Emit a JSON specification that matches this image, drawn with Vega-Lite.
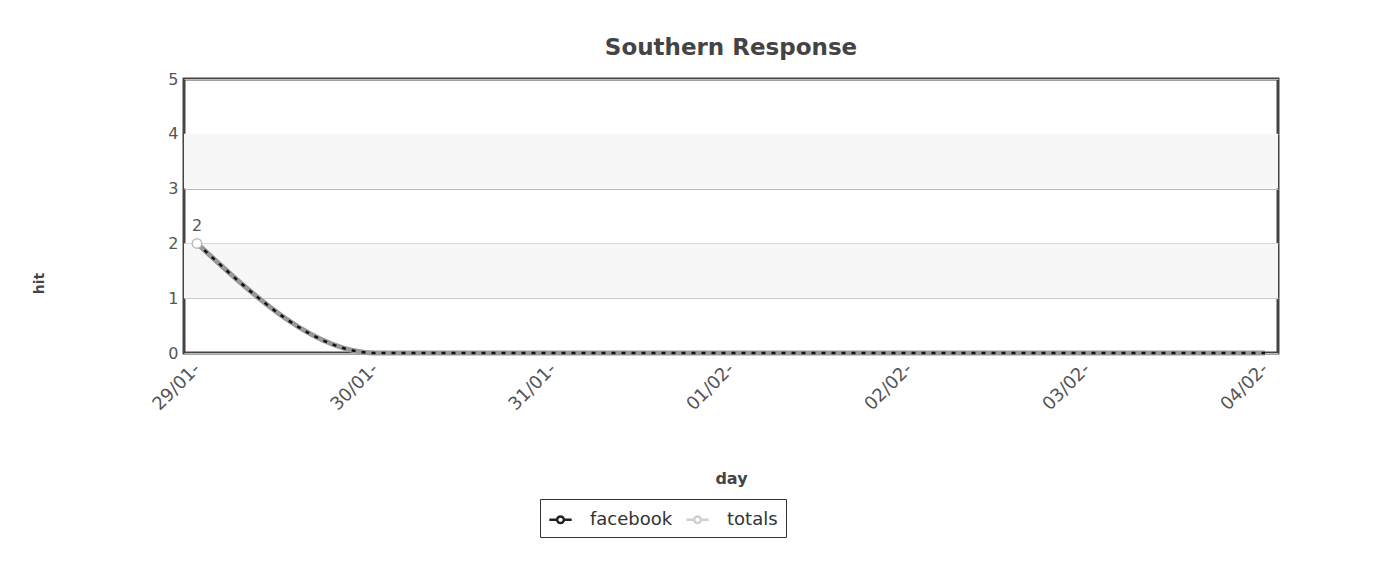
{
  "$schema": "https://vega.github.io/schema/vega-lite/v6.json",
  "width": 1094,
  "height": 274,
  "padding": {"left": 32, "top": 37, "right": 90, "bottom": 20},
  "background": "white",
  "title": {"text": "Southern Response", "font": "DejaVu Sans", "fontSize": 23, "fontWeight": "bold", "color": "#444", "offset": 11},
  "config": {
    "view": {"stroke": "#444", "strokeWidth": 3},
    "font": "DejaVu Sans"
  },
  "datasets": {
    "bands": [{"lo": 1, "hi": 2}, {"lo": 3, "hi": 4}],
    "series": [
      {"day": "29/01-", "hit": 2, "series": "facebook"},
      {"day": "30/01-", "hit": 0, "series": "facebook"},
      {"day": "31/01-", "hit": 0, "series": "facebook"},
      {"day": "01/02-", "hit": 0, "series": "facebook"},
      {"day": "02/02-", "hit": 0, "series": "facebook"},
      {"day": "03/02-", "hit": 0, "series": "facebook"},
      {"day": "04/02-", "hit": 0, "series": "facebook"},
      {"day": "29/01-", "hit": 2, "series": "totals"},
      {"day": "30/01-", "hit": 0, "series": "totals"},
      {"day": "31/01-", "hit": 0, "series": "totals"},
      {"day": "01/02-", "hit": 0, "series": "totals"},
      {"day": "02/02-", "hit": 0, "series": "totals"},
      {"day": "03/02-", "hit": 0, "series": "totals"},
      {"day": "04/02-", "hit": 0, "series": "totals"}
    ]
  },
  "layer": [
    {
      "data": {"name": "bands"},
      "mark": {"type": "rect", "color": "#f7f7f7"},
      "encoding": {
        "y": {
          "field": "lo", "type": "quantitative",
          "scale": {"domain": [0, 5], "nice": false},
          "axis": {
            "title": "hit", "titleFont": "DejaVu Sans", "titleFontSize": 14, "titleFontWeight": "bold", "titleColor": "#444",
            "titleX": -145, "titleY": 204, "titleAlign": "center", "titleBaseline": "middle",
            "values": [0, 1, 2, 3, 4, 5], "labelFontSize": 16, "labelColor": "#555",
            "labelFont": "DejaVu Sans", "labelPadding": 6, "domain": false, "ticks": false,
            "grid": true, "gridColor": "#bbb", "gridWidth": 1
          }
        },
        "y2": {"field": "hi"}
      }
    },
    {
      "data": {"name": "series"},
      "transform": [{"filter": "datum.series == 'totals'"}],
      "mark": {"type": "line", "interpolate": "monotone", "strokeWidth": 5, "color": "#999"},
      "encoding": {
        "x": {
          "field": "day", "type": "ordinal", "sort": null,
          "scale": {"type": "point", "padding": 0.073},
          "axis": {
            "title": "day", "titleFont": "DejaVu Sans", "titleFontSize": 16, "titleFontWeight": "bold", "titleColor": "#444",
            "titlePadding": 57, "labelAngle": -45, "labelAlign": "right", "labelBaseline": "middle",
            "labelFontSize": 18, "labelColor": "#555", "labelFont": "DejaVu Sans", "labelPadding": 13,
            "domain": false, "ticks": false, "grid": false
          }
        },
        "y": {"field": "hit", "type": "quantitative"}
      }
    },
    {
      "data": {"name": "series"},
      "mark": {"type": "line", "interpolate": "monotone", "strokeWidth": 2, "opacity": 0},
      "encoding": {
        "x": {"field": "day", "type": "ordinal", "sort": null},
        "y": {"field": "hit", "type": "quantitative"},
        "color": {
          "field": "series", "type": "nominal",
          "scale": {"domain": ["facebook", "totals"], "range": ["#222", "#d0d0d0"]},
          "legend": {
            "title": null, "orient": "none", "legendX": 356, "legendY": 420,
            "direction": "horizontal", "columns": 2, "gridAlign": "all",
            "symbolType": "M -1 0 L -0.3 0 M 0.3 0 L 1 0 M 0.3 0 A 0.3 0.3 0 1 1 -0.3 0 A 0.3 0.3 0 1 1 0.3 0 Z",
            "symbolStrokeWidth": 2.5, "symbolFillColor": "white",
            "symbolSize": 500, "labelFontSize": 18, "labelColor": "#333", "labelFont": "DejaVu Sans",
            "labelOffset": 17, "strokeColor": "#333", "padding": 8, "columnPadding": 8, "fillColor": "white",
            "symbolOpacity": 1
          }
        }
      }
    },
    {
      "data": {"name": "series"},
      "transform": [{"filter": "datum.series == 'facebook'"}],
      "mark": {"type": "line", "interpolate": "monotone", "strokeWidth": 2.5, "strokeDash": [4, 6], "color": "#111"},
      "encoding": {
        "x": {"field": "day", "type": "ordinal", "sort": null},
        "y": {"field": "hit", "type": "quantitative"}
      }
    },
    {
      "data": {"name": "series"},
      "transform": [{"filter": "datum.series == 'facebook' && datum.hit > 0"}],
      "mark": {"type": "point", "filled": true, "fill": "white", "stroke": "#bbb", "strokeWidth": 1.5, "size": 90, "opacity": 1},
      "encoding": {
        "x": {"field": "day", "type": "ordinal", "sort": null},
        "y": {"field": "hit", "type": "quantitative"}
      }
    },
    {
      "data": {"name": "series"},
      "transform": [{"filter": "datum.series == 'facebook' && datum.hit > 0"}],
      "mark": {"type": "text", "dy": -17, "fontSize": 16, "color": "#555", "font": "DejaVu Sans"},
      "encoding": {
        "x": {"field": "day", "type": "ordinal", "sort": null},
        "y": {"field": "hit", "type": "quantitative"},
        "text": {"field": "hit", "type": "quantitative"}
      }
    }
  ]
}
